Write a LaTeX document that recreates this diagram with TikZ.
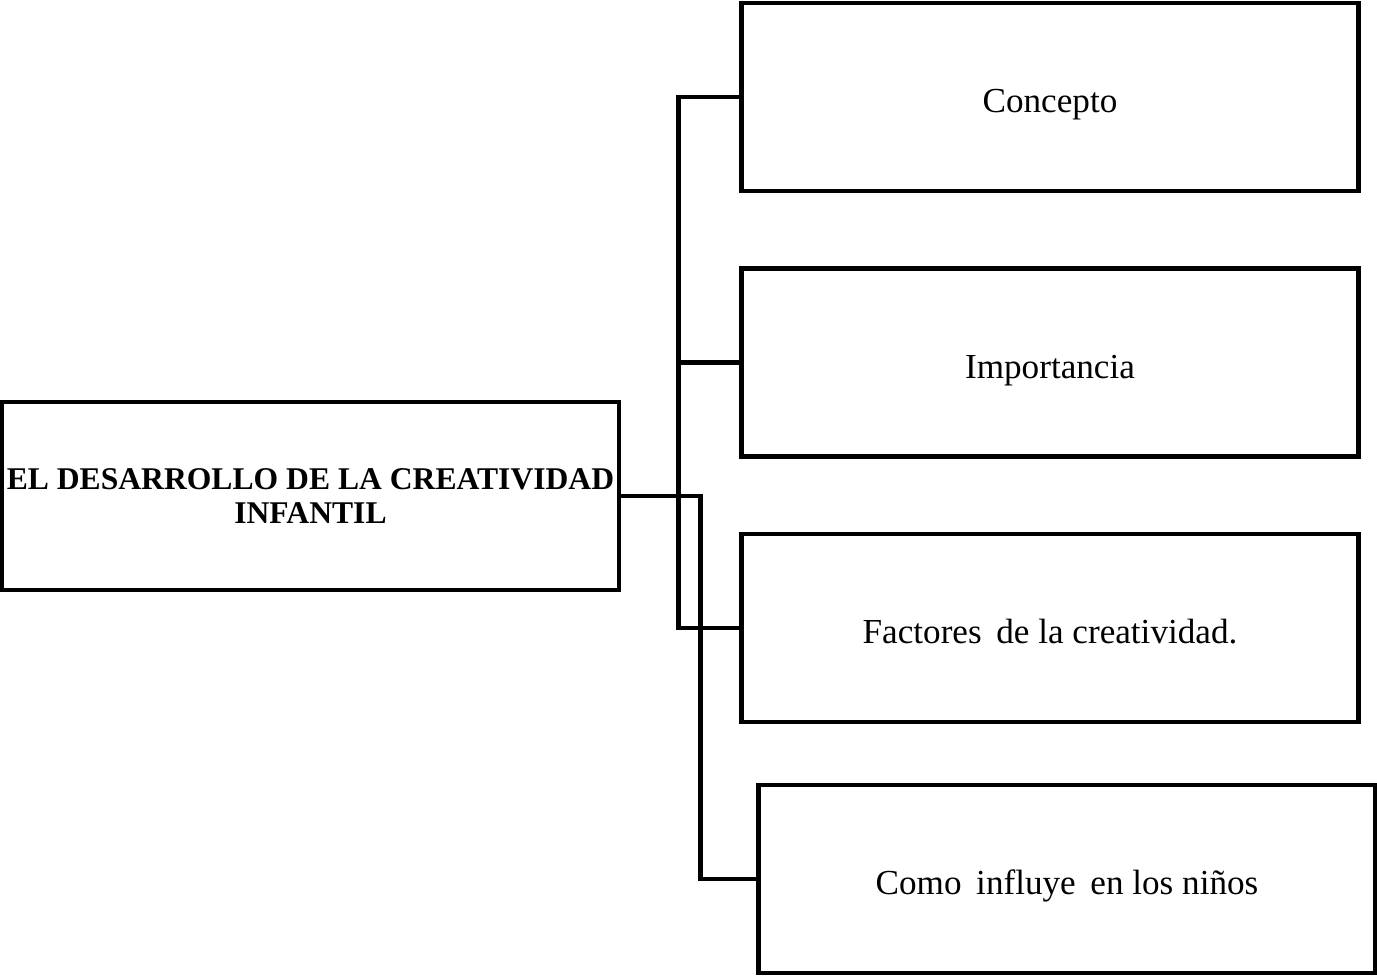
\documentclass[tikz,border=0pt]{standalone}
\usepackage{fontspec}
\setmainfont{Liberation Serif}

\newlength{\du}
\setlength{\du}{0.02cm}
\tikzset{
  boxbase/.style={draw=black, line width=0.09cm, fill=white, inner sep=0pt,
    minimum width=617\du, minimum height=188\du, align=center},
  mapbox/.style={boxbase, font=\fontsize{20}{24}\selectfont,
    text height=18pt, text depth=0pt},
  titlebox/.style={boxbase, font=\bfseries\fontsize{18}{19}\selectfont},
  link/.style={line width=0.09cm, line join=miter}
}

\begin{document}
\begin{tikzpicture}[x=\du, y=-\du]
\useasboundingbox (0,0) rectangle (1377,976);
% main topic
\node[titlebox] (tema) at (310.5,496) {EL DESARROLLO DE LA CREATIVIDAD\\INFANTIL};
% subtopics
\node[mapbox] (concepto) at (1050,97) {Concepto};
\node[mapbox] (importancia) at (1050,362.5) {Importancia};
\node[mapbox] (factores) at (1050,628) {Factores\, de la creatividad.};
\node[mapbox] (influye) at (1067,879) {Como\, influye\, en los niños};
% connectors
\draw[link] (concepto.west) -- ++(-61,0) |- (factores.west);
\draw[link] (importancia.west) -- ++(-61,0);
\draw[link] (tema.east) -- ++(79,0) |- (influye.west);
\end{tikzpicture}
\end{document}
